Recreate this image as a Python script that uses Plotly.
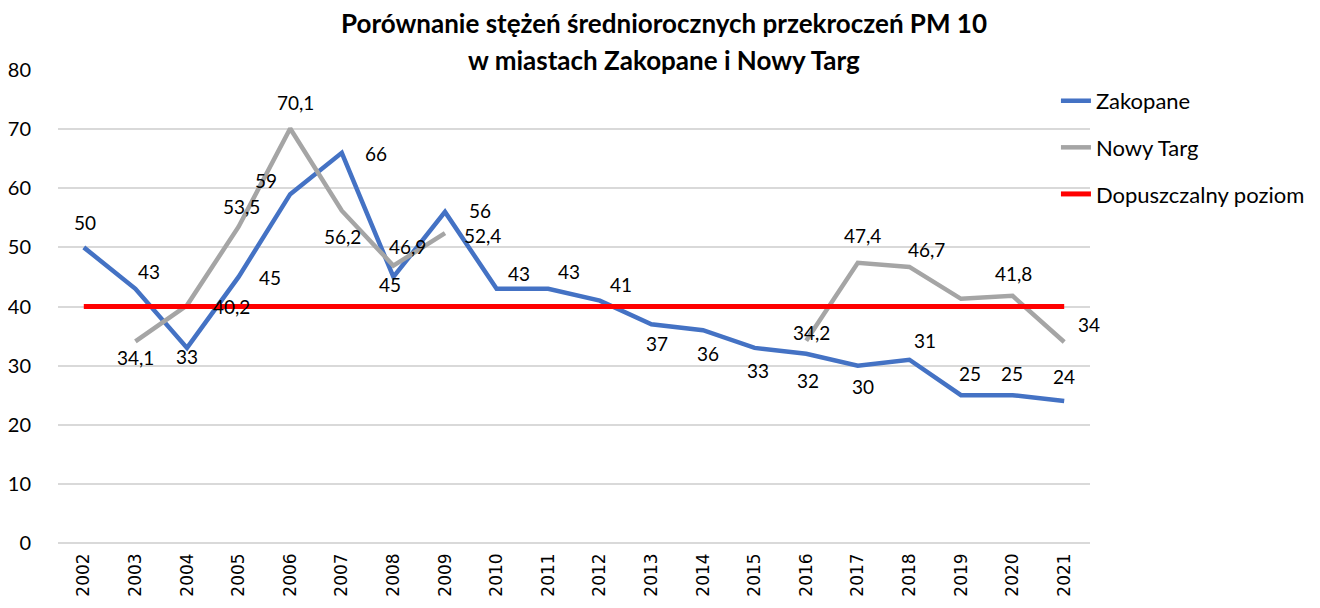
import plotly.graph_objects as go

years = [str(y) for y in range(2002, 2022)]
zakopane = [50, 43, 33, 45, 59, 66, 45, 56, 43, 43, 41, 37, 36, 33, 32, 30, 31, 25, 25, 24]
nowy_targ = [None, 34.1, 40.2, 53.5, 70.1, 56.2, 46.9, 52.4, None, None, None, None, None, None,
             34.2, 47.4, 46.7, 41.3, 41.8, 34]
nowy_targ_labeled = [True] * 20
nowy_targ_labeled[17] = False
limit = [40] * 20

# label offsets in pixels (dx, dy; dy positive = downward) relative to each point
zak_off = [(1, -25), (14, -17), (0, 9), (31, 1), (-24, -14), (34, 1), (-3, 8), (35, -1),
           (22, -15), (21, -17), (21, -16), (6, 19), (5, 23), (3, 23), (2, 27), (5, 21),
           (16, -19), (9, -22), (-1, -22), (0, -25)]
nt_off = [(0, 0), (0, 16), (44, 1), (3, -20), (5, -26), (1, 26), (14, -19), (37, 2),
          (0, 0), (0, 0), (0, 0), (0, 0), (0, 0), (0, 0),
          (5, -8), (5, -27), (17, -17), (0, 0), (1, -22), (25, -17)]

BLUE = "#4472C4"
GRAY = "#A5A5A5"
RED = "#FF0000"
FONT = "Lato"

fig = go.Figure()
fig.add_trace(go.Scatter(x=years, y=zakopane, name="Zakopane", mode="lines",
                         line=dict(color=BLUE, width=4.5), legendgroup="a"))
fig.add_trace(go.Scatter(x=years, y=nowy_targ, name="Nowy Targ", mode="lines",
                         line=dict(color=GRAY, width=4.5), connectgaps=False, legendgroup="b"))
fig.add_trace(go.Scatter(x=years, y=limit, name="Dopuszczalny poziom", mode="lines",
                         line=dict(color=RED, width=5), legendgroup="c"))

def fmt(v):
    return f"{v:g}".replace(".", ",")

annotations = []
for i, v in enumerate(zakopane):
    dx, dy = zak_off[i]
    annotations.append(dict(x=i, y=v, xref="x", yref="y", text=fmt(v), showarrow=False,
                            xshift=dx, yshift=-dy,
                            font=dict(family=FONT, size=19, color="black")))
for i, v in enumerate(nowy_targ):
    if v is None or not nowy_targ_labeled[i]:
        continue
    dx, dy = nt_off[i]
    annotations.append(dict(x=i, y=v, xref="x", yref="y", text=fmt(v), showarrow=False,
                            xshift=dx, yshift=-dy,
                            font=dict(family=FONT, size=19, color="black")))

W, H = 1312, 600
L, T, R, B = 50, 62, 230, 65
annotations.append(dict(text="<b>w miastach Zakopane i Nowy Targ</b>", xref="paper", yref="paper",
                        x=(W / 2 - L) / (W - L - R), y=1.0 + 10 / (H - T - B),
                        xanchor="center", yanchor="middle", showarrow=False,
                        font=dict(family=FONT, size=26, color="black")))

fig.update_layout(
    width=W, height=H,
    paper_bgcolor="white", plot_bgcolor="white",
    margin=dict(l=L, r=R, t=T, b=B, autoexpand=False),
    title=dict(text="<b>Porównanie stężeń średniorocznych przekroczeń PM 10</b>",
               x=0.5, xref="container", xanchor="center", y=1 - 16 / H, yanchor="middle",
               font=dict(family=FONT, size=26, color="black")),
    font=dict(family=FONT, size=19, color="black"),
    showlegend=True,
    legend=dict(x=0.967, y=0.979, xanchor="left", yanchor="top", tracegroupgap=15,
                font=dict(family=FONT, size=22, color="black"), bgcolor="rgba(0,0,0,0)"),
    annotations=annotations,
)
fig.update_xaxes(type="category", range=[-0.5, 19.5], tickangle=-90, showgrid=False,
                 showline=False, ticks="", tickfont=dict(family="DejaVu Sans", size=17),
                 ticklabelstandoff=6, automargin=False)
fig.update_yaxes(range=[0, 80], dtick=10, showgrid=True, gridcolor="#D9D9D9", gridwidth=1.5,
                 zeroline=True, zerolinecolor="#D9D9D9", zerolinewidth=1.5,
                 showline=False, ticks="", tickfont=dict(family=FONT, size=20),
                 ticklabelstandoff=26, automargin=False)

fig.write_html("out.html")
